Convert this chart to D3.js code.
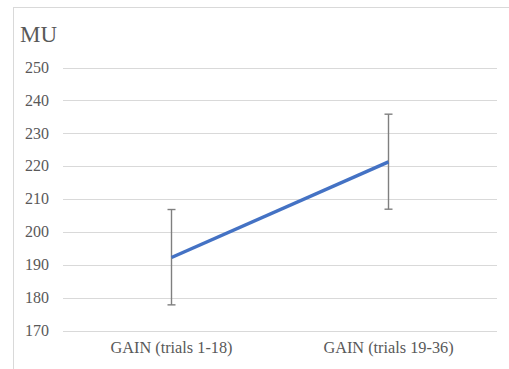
<!DOCTYPE html>
<html>
<head>
<meta charset="utf-8">
<script src="https://cdn.jsdelivr.net/npm/d3@7"></script>
<style>
  body { margin: 0; background: #fff; }
</style>
</head>
<body>
<svg id="chart"></svg>
<script>
// chart data
const categories = ["GAIN (trials 1-18)", "GAIN (trials 19-36)"];
const means = [192.2, 221.3];
const errUpper = [206.8, 235.8];
const errLower = [177.8, 206.9];
const yTicks = [170, 180, 190, 200, 210, 220, 230, 240, 250];
const yLabel = "MU";

const width = 509;
const height = 369;
const margin = { top: 67.5, bottom: 38.5, left: 63, right: 12 };
const font = "'Liberation Serif', serif";

const svg = d3.select("#chart")
    .attr("width", width)
    .attr("height", height)
    .attr("font-family", font);

// chart frame (runs off the right and bottom edge)
svg.append("rect")
    .attr("x", 13.5)
    .attr("y", 7.5)
    .attr("width", 510)
    .attr("height", 380)
    .attr("fill", "none")
    .attr("stroke", "#d9d9d9")
    .attr("stroke-width", 1);

const x = d3.scaleBand()
    .domain(categories)
    .range([margin.left, width - margin.right]);

const y = d3.scaleLinear()
    .domain([170, 250])
    .range([height - margin.bottom, margin.top]);

// gridlines
svg.append("g")
    .selectAll("line")
    .data(yTicks)
    .join("line")
    .attr("x1", margin.left)
    .attr("x2", width - margin.right)
    .attr("y1", (d) => Math.round(y(d)) + 0.5)
    .attr("y2", (d) => Math.round(y(d)) + 0.5)
    .attr("stroke", "#d9d9d9")
    .attr("stroke-width", 1);

// y tick labels
svg.append("g")
    .selectAll("text")
    .data(yTicks)
    .join("text")
    .attr("x", 49)
    .attr("y", (d) => y(d))
    .attr("dy", "0.33em")
    .attr("text-anchor", "end")
    .attr("font-family", font)
    .attr("font-size", "16px")
    .attr("fill", "#595959")
    .text((d) => d);

// category labels
svg.append("g")
    .selectAll("text")
    .data(categories)
    .join("text")
    .attr("x", (d) => x(d) + x.bandwidth() / 2)
    .attr("y", 353)
    .attr("text-anchor", "middle")
    .attr("font-family", font)
    .attr("font-size", "16.3px")
    .attr("fill", "#595959")
    .text((d) => d);

svg.append("text")
    .attr("x", 20)
    .attr("y", 41.5)
    .attr("font-family", font)
    .attr("font-size", "23px")
    .attr("fill", "#595959")
    .text(yLabel);

const cx = (i) => x(categories[i]) + x.bandwidth() / 2;

// error bars
const bars = svg.append("g")
    .attr("stroke", "#7f7f7f")
    .attr("stroke-width", 1.4);

means.forEach((m, i) => {
    bars.append("line")
        .attr("x1", cx(i)).attr("x2", cx(i))
        .attr("y1", y(errUpper[i])).attr("y2", y(errLower[i]));
    [errUpper[i], errLower[i]].forEach((v) => {
        bars.append("line")
            .attr("x1", cx(i) - 4).attr("x2", cx(i) + 4)
            .attr("y1", y(v)).attr("y2", y(v));
    });
});

// the series line
const line = d3.line()
    .x((d, i) => cx(i))
    .y((d) => y(d));

svg.append("path")
    .datum(means)
    .attr("fill", "none")
    .attr("stroke", "#4472c4")
    .attr("stroke-width", 3.5)
    .attr("d", line);
</script>
</body>
</html>
